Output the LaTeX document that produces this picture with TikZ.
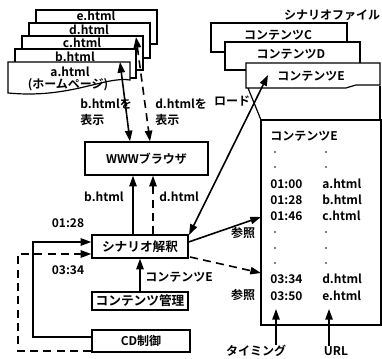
\documentclass[tikz,border=0pt]{standalone}
\usepackage{fontspec}
\setmainfont{Noto Sans CJK JP}[BoldFont={Noto Sans CJK JP Bold}]
\usetikzlibrary{arrows.meta}
\begin{document}
\begin{tikzpicture}[x=0.75pt,y=-0.75pt,
  every node/.style={font=\fontsize{9}{10}\selectfont\bfseries, inner sep=0pt},
  box/.style={draw, line width=1pt, fill=white, minimum width=72pt},
  page/.style={draw, line width=0.9pt, fill=white},
  arr/.style={line width=1.2pt, -{Triangle[length=8pt,width=5.5pt]}},
  darr/.style={line width=1.2pt, {Triangle[length=8pt,width=5.5pt]}-{Triangle[length=8pt,width=5.5pt]}},
  dsh/.style={dash pattern=on 6pt off 4pt},
  thin/.style={line width=0.9pt}]
\useasboundingbox (0,0) rectangle (382,359);
\clip (0,0) rectangle (382,359);
\fill[white] (0,0) rectangle (382,359);

% HTML page stack
\path[page] (36,10) rectangle (157,44);
\node (pe) at (96,16) {e.html};
\path[page] (29,23) rectangle (150,58);
\node (pd) at (89,30) {d.html};
\path[page] (22,36) rectangle (143,70);
\node (pc) at (82,43) {c.html};
\path[page] (15,49) rectangle (136,78);
\node (pb) at (75,57) {b.html};
\path[page] (8,62) -- (130,62) -- (130,80) .. controls (105,76) and (70,99) .. (8,93) -- cycle;
\node (pa) at (70,72) {a.html};
\node (pah) at (68,85) {(ホームページ)};

% browser
\node[box, minimum width=92.25pt, minimum height=24.75pt] (web) at (146.5,158.5) {WWWブラウザ};
\coordinate (bTop) at (120,62);
\coordinate (dTop) at (136,37);
\draw[darr] (bTop) -- (web.north -| 130,0);
\draw[darr, dsh] (dTop) -- (web.north -| 150,0);
\node[align=left, anchor=north west] (lb) at (80,98) {b.htmlを\\[2pt]表示};
\node[align=left, anchor=north west] (ld) at (155,98) {d.htmlを\\[2pt]表示};

% scenario interpretation
\node[box, minimum height=17.25pt, font=\fontsize{9.5}{10}\selectfont\bfseries] (scen) at (140,246.5) {シナリオ解釈};
\node[box, minimum height=13.5pt, font=\fontsize{9.5}{10}\selectfont\bfseries] (mgmt) at (140,301) {コンテンツ管理};
\node[box, minimum width=73.5pt, minimum height=16.5pt] (cd) at (141,341) {CD制御};

\draw[arr] (scen.north -| 133,0) -- (web.south -| 133,0);
\draw[arr, dsh] (scen.north -| 153,0) -- (web.south -| 153,0);
\node[anchor=east] (lb2) at (124,197) {b.html};
\node[anchor=west] (ld2) at (159,197) {d.html};

\draw[arr] (mgmt.north) -- (scen.south);
\node[anchor=west] (lce) at (145,277) {コンテンツE};

\coordinate (s1) at (33,337);
\coordinate (s2) at (33,242);
\draw[arr] (cd.west |- s1) -- (s1) -- (s2) -- (scen.west |- s2);
\coordinate (q1) at (18,351);
\coordinate (q2) at (18,254);
\draw[arr, dsh] (cd.west |- q1) -- (q1) -- (q2) -- (scen.west |- q2);
\node (t1) at (68,223) {01:28};
\node (t2) at (68,270) {03:34};

% scenario files
\node (sf) at (332,15) {シナリオファイル};
\path[page] (211,23) rectangle (347,52);
\node (cc) at (278,35) {コンテンツC};
\path[page] (225,42) rectangle (360,70);
\node (cdd) at (291,54) {コンテンツD};
\path[page] (246,63) -- (380,63) -- (380,85) -- (356,85) -- (346,88) -- (246,88) -- cycle;
\node (ce) at (311,76) {コンテンツE};

% detail box
\draw[thin] (248,88) -- (261,120);
\draw[thin] (380,86) -- (380,120);
\draw[line width=1pt] (261,120) rectangle (381,325);
\node[anchor=west] (dh) at (270,136) {コンテンツE};
\foreach \y in {152,167,232,248,263}{
  \fill (275,\y) circle (0.9);
  \fill (326,\y) circle (0.9);
}
\node[anchor=west] (r1t) at (270,184) {01:00};
\node[anchor=west] (r1u) at (322,184) {a.html};
\node[anchor=west] (r2t) at (270,200) {01:28};
\node[anchor=west] (r2u) at (322,200) {b.html};
\node[anchor=west] (r3t) at (270,216) {01:46};
\node[anchor=west] (r3u) at (322,216) {c.html};
\node[anchor=west] (r4t) at (270,279) {03:34};
\node[anchor=west] (r4u) at (322,279) {d.html};
\node[anchor=west] (r5t) at (270,296) {03:50};
\node[anchor=west] (r5u) at (322,296) {e.html};

\coordinate (h1) at (261,217);
\coordinate (h2) at (261,273);
\draw[arr] (scen.east |- 0,242) -- (h1);
\draw[arr, dsh] (190,257) -- (h2);
\node (ref1) at (243,233) {参照};
\node (ref2) at (243,295) {参照};

\coordinate (ld1) at (268,75);
\draw[darr] (189,235) -- (ld1);
\node (load) at (232,101) {ロード};

\node (tim) at (256,351) {タイミング};
\node (url) at (336,351) {URL};
\draw[arr] (tim.north -| 276,0) -- (276,309);
\draw[arr] (url.north -| 329,0) -- (329,309);
\end{tikzpicture}
\end{document}
